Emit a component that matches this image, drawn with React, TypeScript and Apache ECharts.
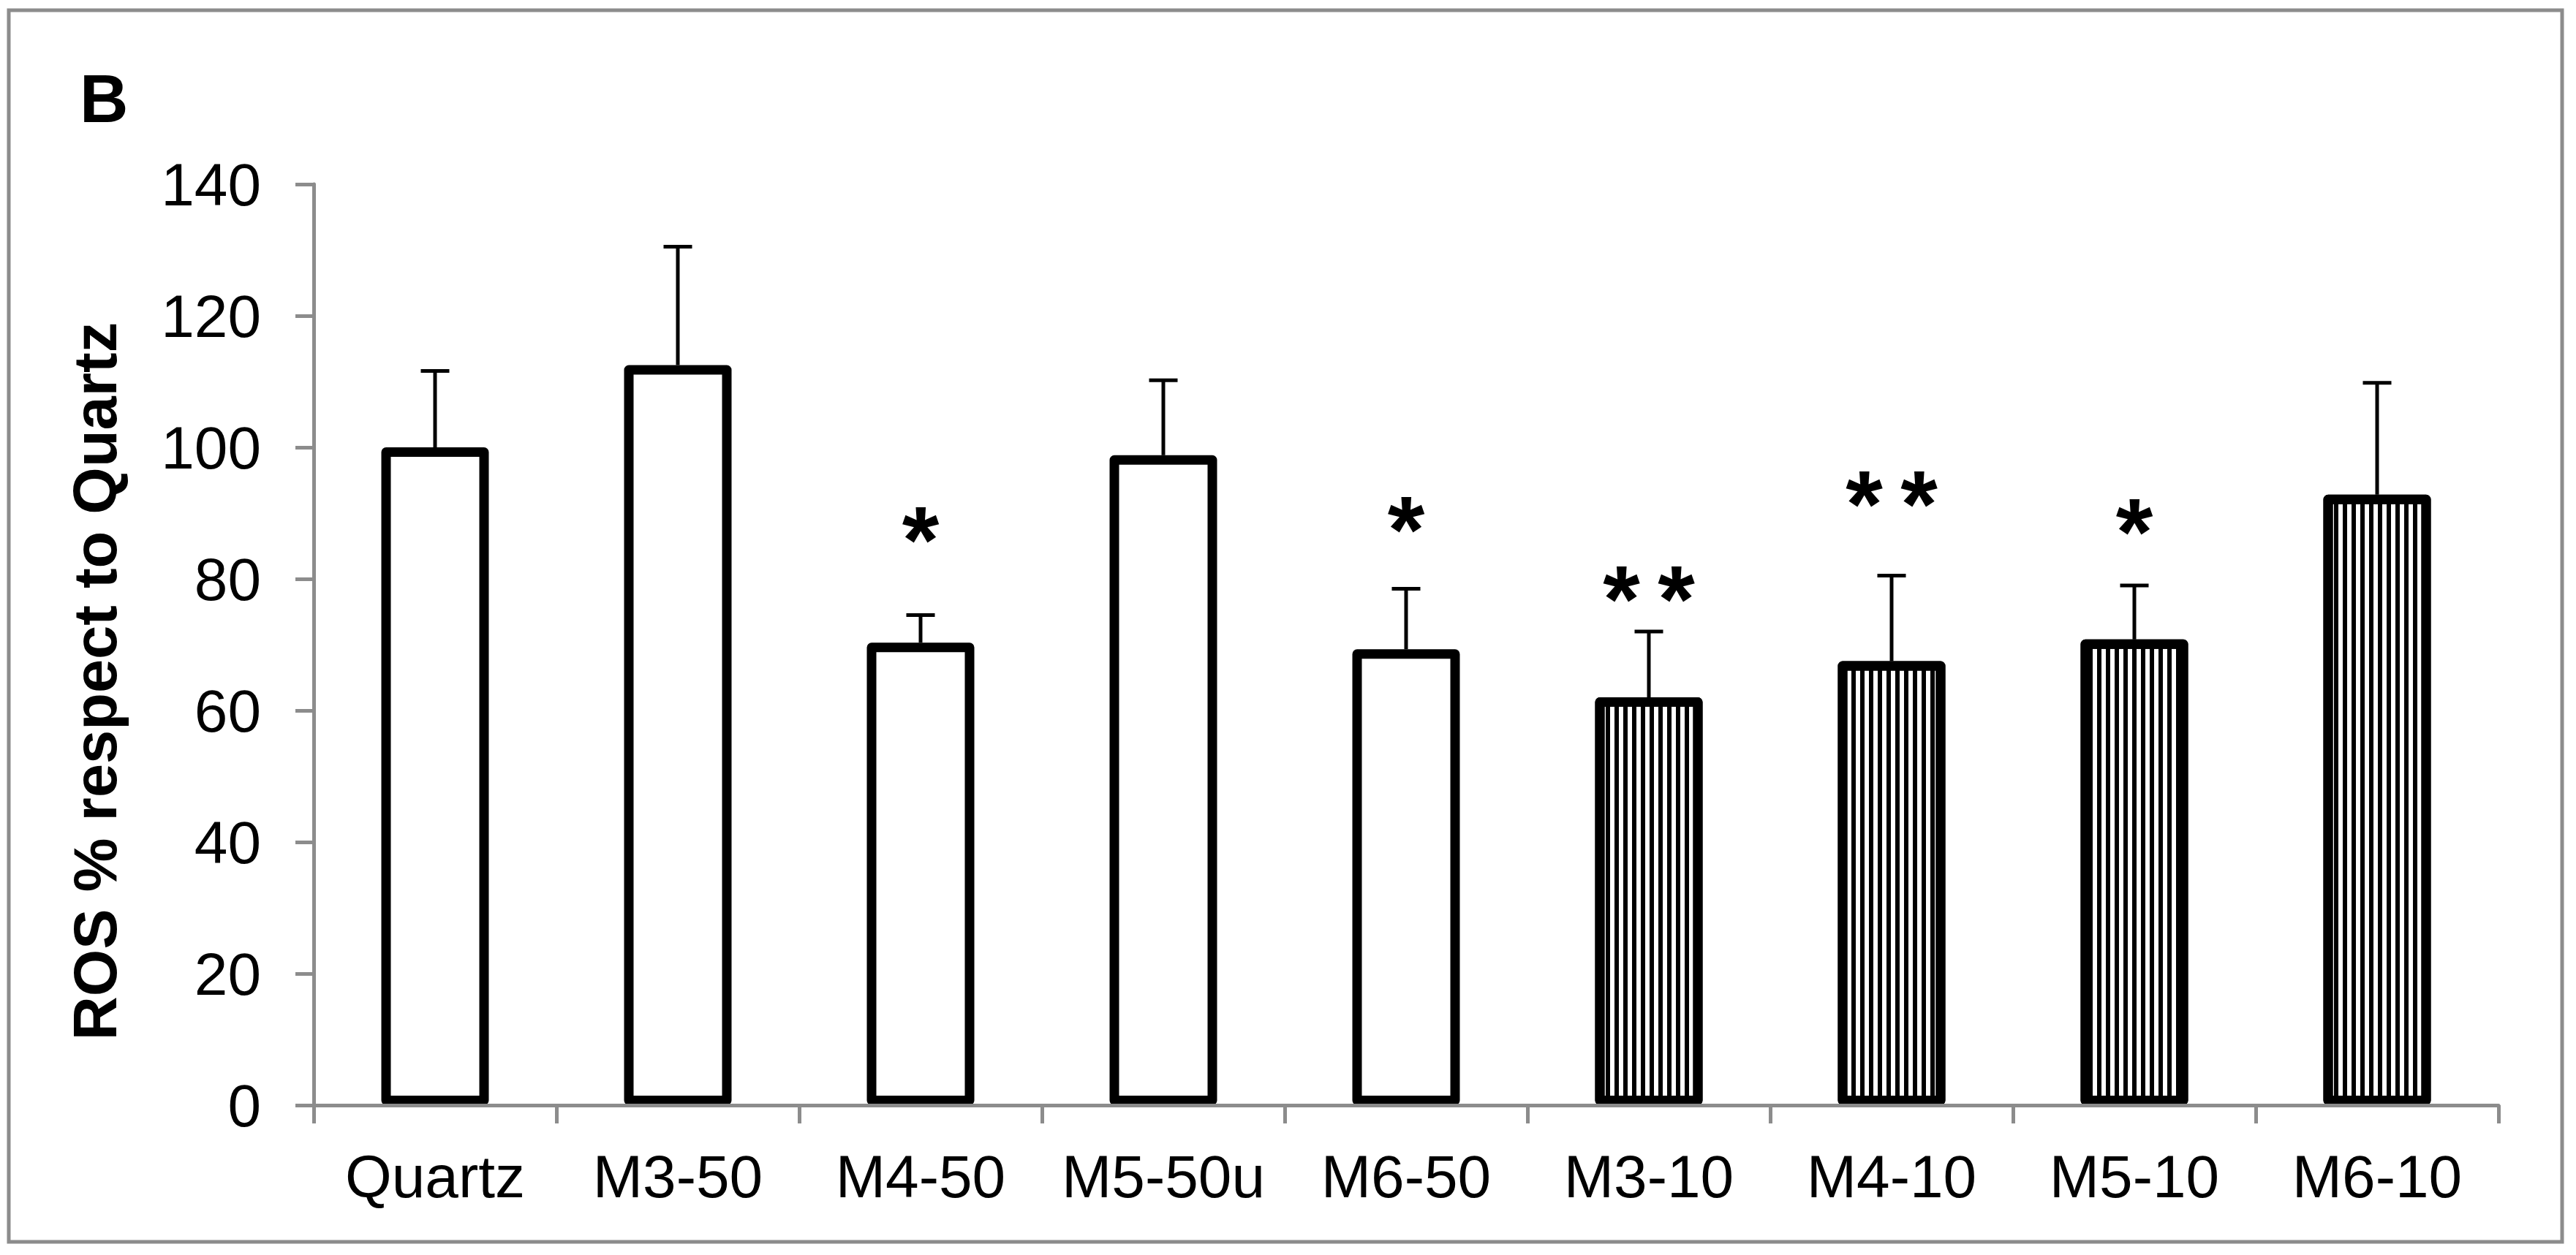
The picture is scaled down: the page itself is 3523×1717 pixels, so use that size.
import React, { useEffect, useRef } from 'react';
import * as echarts from 'echarts';

const categories = ['Quartz', 'M3-50', 'M4-50', 'M5-50u', 'M6-50', 'M3-10', 'M4-10', 'M5-10', 'M6-10'];
const meanValues = [100, 112.5, 70.3, 98.8, 69.3, 62.0, 67.5, 70.8, 92.8];
const errorValues = [11.6, 18.0, 4.2, 11.4, 9.2, 10.0, 13.0, 8.2, 17.0];
const hatched = [false, false, false, false, false, true, true, true, true];
const significance = ['', '', '*', '', '*', '**', '**', '*', ''];
const significanceLevels = [null, null, 88.3, null, 89.9, 79.4, 93.8, 89.6, null];
const yMin = 0;
const yMax = 140;
const yInterval = 20;
const yTitle = 'ROS % respect to Quartz';
const panelLetter = 'B';

const FONT = '"Liberation Sans", Arial, Helvetica, sans-serif';
const GRAY = '#8c8c8c';
const STAR_SIZE = 130;
const STAR_GAP = 75;

export default function App() {
  const ref = useRef<HTMLDivElement>(null);

  useEffect(() => {
    if (!ref.current) return;
    const chart = echarts.init(ref.current, undefined, { renderer: 'svg' });

    const barData = meanValues.map((v, i) => ({
      value: v,
      itemStyle: hatched[i]
        ? {
            color: '#ffffff',
            decal: {
              symbol: 'rect',
              symbolSize: 1,
              color: '#000000',
              backgroundColor: '#ffffff',
              dashArrayX: [[6, 6]],
              dashArrayY: [20, 0],
              rotation: 0,
            },
          }
        : { color: '#ffffff' },
    }));

    const errData = meanValues.map((v, i) => [i, v, errorValues[i]]);
    const sigData: any[] = [];
    significance.forEach((s, i) => {
      if (s && significanceLevels[i] != null) sigData.push([i, significanceLevels[i], s]);
    });

    const option: any = {
      animation: false,
      backgroundColor: '#ffffff',
      grid: { left: 429, right: 106, top: 252, bottom: 205, containLabel: false },
      xAxis: {
        type: 'category',
        data: categories,
        z: 5,
        boundaryGap: true,
        axisLine: { show: true, lineStyle: { color: GRAY, width: 5 } },
        axisTick: { show: true, interval: 0, length: 25, lineStyle: { color: GRAY, width: 5 } },
        axisLabel: { interval: 0, color: '#000', fontFamily: FONT, fontSize: 82, margin: 56 },
        splitLine: { show: false },
      },
      yAxis: {
        type: 'value',
        min: yMin,
        max: yMax,
        interval: yInterval,
        axisLine: { show: true, lineStyle: { color: GRAY, width: 5 } },
        axisTick: { show: true, length: 25, lineStyle: { color: GRAY, width: 5 } },
        axisLabel: { color: '#000', fontFamily: FONT, fontSize: 82, margin: 72 },
        splitLine: { show: false },
      },
      series: [
        {
          type: 'bar',
          data: barData,
          barWidth: 147,
          z: 2,
          itemStyle: { borderColor: '#000', borderWidth: 13, borderJoin: 'round' },
        },
        {
          type: 'custom',
          z: 3,
          data: errData,
          renderItem: (params: any, api: any) => {
            const x = api.value(0);
            const m = api.value(1);
            const e = api.value(2);
            const base = api.coord([x, m]);
            const top = api.coord([x, m + e]);
            const hw = 19.5;
            return {
              type: 'group',
              children: [
                {
                  type: 'line',
                  shape: { x1: base[0], y1: base[1], x2: top[0], y2: top[1] },
                  style: { stroke: '#000', lineWidth: 5 },
                },
                {
                  type: 'line',
                  shape: { x1: top[0] - hw, y1: top[1], x2: top[0] + hw, y2: top[1] },
                  style: { stroke: '#000', lineWidth: 5 },
                },
              ],
            };
          },
        },
        {
          type: 'custom',
          z: 4,
          data: sigData,
          renderItem: (params: any, api: any) => {
            const idx = params.dataIndex;
            const item = sigData[idx];
            const p = api.coord([item[0], item[1]]);
            const n = String(item[2]).length;
            const children: any[] = [];
            for (let k = 0; k < n; k++) {
              const dx = (k - (n - 1) / 2) * STAR_GAP;
              children.push({
                type: 'text',
                x: p[0] + dx,
                y: p[1] + STAR_SIZE * 0.17,
                style: {
                  text: '*',
                  fill: '#000',
                  font: `bold ${STAR_SIZE}px ${FONT}`,
                  textAlign: 'center',
                  textVerticalAlign: 'middle',
                },
              });
            }
            return { type: 'group', children };
          },
        },
      ],
      graphic: [
        {
          type: 'rect',
          shape: { x: 12, y: 14, width: 3492, height: 1685 },
          style: { fill: 'none', stroke: GRAY, lineWidth: 5 },
          silent: true,
          z: -1,
        },
        {
          type: 'text',
          x: 109,
          y: 135,
          style: {
            text: panelLetter,
            fill: '#000',
            font: `bold 92px ${FONT}`,
            textAlign: 'left',
            textVerticalAlign: 'middle',
          },
        },
        {
          type: 'text',
          x: 130,
          y: 932,
          rotation: Math.PI / 2,
          style: {
            text: yTitle,
            fill: '#000',
            font: `bold 83px ${FONT}`,
            textAlign: 'center',
            textVerticalAlign: 'middle',
          },
        },
      ],
    };

    chart.setOption(option);
    return () => {
      chart.dispose();
    };
  }, []);

  return (
    <div
      ref={ref}
      style={{ position: 'absolute', left: 0, top: 0, width: 3523, height: 1717, background: '#fff' }}
    />
  );
}
